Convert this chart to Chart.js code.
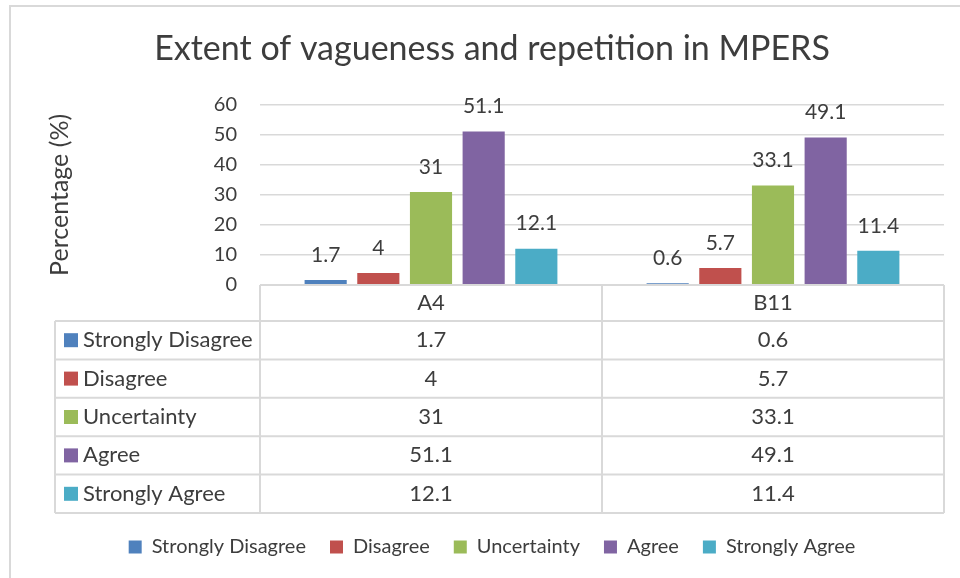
<!DOCTYPE html>
<html lang="en">
<head>
    <meta charset="UTF-8">
    <meta name="viewport" content="width=device-width, initial-scale=1.0">
    <title>Extent of vagueness and repetition in MPERS</title>
    <script src="https://cdn.jsdelivr.net/npm/chart.js"></script>
    <style>
        * {
            margin: 0;
            padding: 0;
            box-sizing: border-box;
        }
        body {
            background-color: #fff;
            width: 960px;
            height: 578px;
            overflow: hidden;
        }
    </style>
</head>
<body>
    <canvas id="vagueChart" width="960" height="578"></canvas>

    <script>
        // data
        const categories = ['A4', 'B11'];
        const seriesNames = ['Strongly Disagree', 'Disagree', 'Uncertainty', 'Agree', 'Strongly Agree'];
        const stronglyDisagree = [1.7, 0.6];
        const disagree = [4, 5.7];
        const uncertainty = [31, 33.1];
        const agree = [51.1, 49.1];
        const stronglyAgree = [12.1, 11.4];
        const yMin = 0;
        const yMax = 60;
        const yStep = 10;

        const seriesValues = [stronglyDisagree, disagree, uncertainty, agree, stronglyAgree];
        const seriesColors = ['#4f81bd', '#c0504d', '#9bbb59', '#8064a2', '#4bacc6'];

        const FONT = 'Lato, "Open Sans", sans-serif';
        const TEXT = '#3d3d3d';
        const LINE = '#d9d9d9';

        // white page + the light frame around the chart (only top and left are in view)
        const frame = {
            id: 'frame',
            beforeDraw(chart) {
                const ctx = chart.ctx;
                ctx.save();
                ctx.fillStyle = '#fff';
                ctx.fillRect(0, 0, chart.width, chart.height);
                ctx.strokeStyle = LINE;
                ctx.lineWidth = 2;
                ctx.beginPath();
                ctx.moveTo(10, chart.height);
                ctx.lineTo(10, 6);
                ctx.lineTo(chart.width, 6);
                ctx.stroke();
                ctx.restore();
            }
        };

        // value labels above each bar
        const barLabels = {
            id: 'barLabels',
            afterDatasetsDraw(chart) {
                const ctx = chart.ctx;
                ctx.save();
                ctx.font = '21px ' + FONT;
                ctx.fillStyle = TEXT;
                ctx.textAlign = 'center';
                ctx.textBaseline = 'middle';
                chart.data.datasets.forEach((ds, i) => {
                    chart.getDatasetMeta(i).data.forEach((bar, j) => {
                        ctx.fillText(String(ds.data[j]), bar.x, bar.y - 25);
                    });
                });
                ctx.restore();
            }
        };

        // data table under the plot, built from the x scale
        const dataTable = {
            id: 'dataTable',
            afterDraw(chart) {
                const ctx = chart.ctx;
                const area = chart.chartArea;
                const x = chart.scales.x;
                const sets = chart.data.datasets;
                const left = 55;
                const top = area.bottom;
                const bottom = x.bottom;
                const headerH = 36;
                const rowH = (bottom - top - headerH) / sets.length;
                const half = (x.getPixelForValue(1) - x.getPixelForValue(0)) / 2;

                ctx.save();
                ctx.strokeStyle = LINE;
                ctx.lineWidth = 2;
                ctx.beginPath();
                ctx.moveTo(area.left, top);
                ctx.lineTo(area.right, top);
                for (let r = 0; r <= sets.length; r++) {
                    const y = top + headerH + r * rowH;
                    ctx.moveTo(left, y);
                    ctx.lineTo(area.right, y);
                }
                ctx.moveTo(left, top + headerH);
                ctx.lineTo(left, bottom);
                ctx.moveTo(area.left, top);
                ctx.lineTo(area.left, bottom);
                chart.data.labels.forEach((lab, i) => {
                    const edge = x.getPixelForValue(i) + half;
                    ctx.moveTo(edge, top);
                    ctx.lineTo(edge, bottom);
                });
                ctx.stroke();

                ctx.font = '22px ' + FONT;
                ctx.fillStyle = TEXT;
                ctx.textBaseline = 'middle';
                ctx.textAlign = 'center';
                chart.data.labels.forEach((lab, i) => {
                    ctx.fillText(lab, x.getPixelForValue(i), top + headerH / 2);
                });
                sets.forEach((ds, r) => {
                    const cy = top + headerH + r * rowH + rowH / 2;
                    ctx.fillStyle = ds.backgroundColor;
                    ctx.fillRect(64, cy - 7, 14, 14);
                    ctx.fillStyle = TEXT;
                    ctx.textAlign = 'left';
                    ctx.fillText(ds.label, 83, cy);
                    ctx.textAlign = 'center';
                    ds.data.forEach((v, i) => {
                        ctx.fillText(String(v), x.getPixelForValue(i), cy);
                    });
                });
                ctx.restore();
            }
        };

        function buildDatasets() {
            return seriesNames.map((name, i) => ({
                label: name,
                data: seriesValues[i],
                backgroundColor: seriesColors[i],
                borderWidth: 0,
                categoryPercentage: 0.77,
                barPercentage: 0.8
            }));
        }

        window.onload = function() {
            const ctx = document.getElementById('vagueChart').getContext('2d');
            new Chart(ctx, {
                type: 'bar',
                data: {
                    labels: categories,
                    datasets: buildDatasets()
                },
                options: {
                    responsive: false,
                    animation: false,
                    layout: {
                        padding: { top: 21, right: 16, bottom: 11, left: 40 }
                    },
                    scales: {
                        x: {
                            grid: { display: false },
                            border: { display: false },
                            ticks: { display: false },
                            afterFit(scale) { scale.height = 228; }
                        },
                        y: {
                            min: yMin,
                            max: yMax,
                            ticks: {
                                stepSize: yStep,
                                padding: 23,
                                color: TEXT,
                                font: { family: FONT, size: 20 }
                            },
                            grid: { color: LINE, lineWidth: 1.5, drawTicks: false },
                            border: { display: false },
                            title: {
                                display: true,
                                text: 'Percentage (%)',
                                color: TEXT,
                                font: { family: FONT, size: 25 },
                                padding: { top: 5, bottom: 0 }
                            },
                            afterFit(scale) { scale.width = 220; }
                        }
                    },
                    plugins: {
                        title: {
                            display: true,
                            text: 'Extent of vagueness and repetition in MPERS',
                            color: TEXT,
                            font: { family: FONT, size: 34, weight: 'normal' },
                            padding: { top: 8, bottom: 35 }
                        },
                        legend: {
                            position: 'bottom',
                            labels: {
                                color: TEXT,
                                font: { family: FONT, size: 20 },
                                boxWidth: 13,
                                boxHeight: 13,
                                padding: 24
                            }
                        },
                        tooltip: { enabled: false }
                    }
                },
                plugins: [frame, barLabels, dataTable]
            });
        };
    </script>
</body>
</html>
